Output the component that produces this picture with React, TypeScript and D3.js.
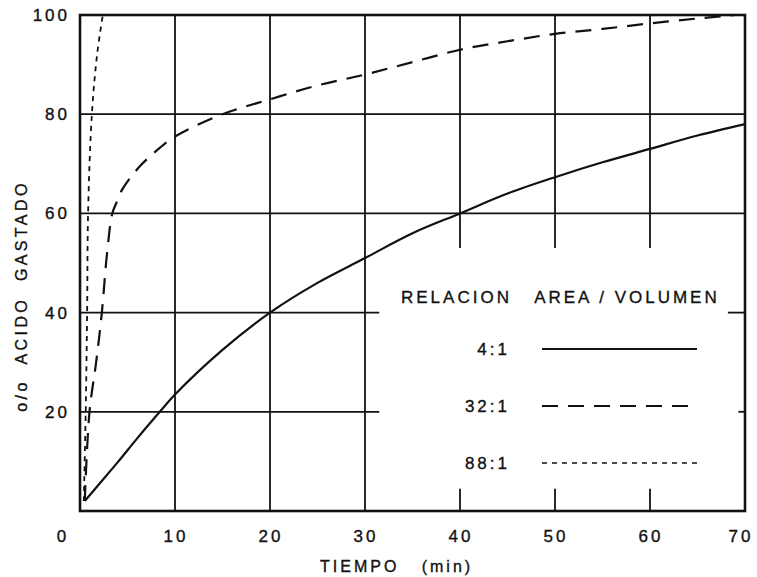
import React, { useEffect, useRef } from 'react';
import * as d3 from 'd3';

// tiempo (min) vs % acido gastado
const ratio4 = [
  [0.5, 2], [2, 5.4], [4, 9.9], [6, 14.6], [8.4, 20], [10, 23.5], [15, 32.5],
  [20, 40], [25, 46], [30, 51], [35, 56], [40, 60], [45, 64], [50, 67.3],
  [55, 70.3], [60, 73], [65, 75.7], [70, 78],
];
const ratio32 = [
  [0.5, 2], [1, 20], [1.7, 30], [2.3, 40], [2.85, 52], [3.4, 60], [3.8, 62],
  [4.5, 65], [6.3, 69.5], [8.4, 73.2], [10, 75.5], [15, 80], [20, 83], [25, 85.8],
  [30, 88], [35, 90.5], [40, 93], [45, 94.7], [50, 96.2], [55, 97.2], [60, 98.3],
  [65, 99.3], [69, 100],
];
const ratio88 = [
  [0.4, 2], [0.6, 20], [0.75, 40], [0.85, 60], [1.25, 80], [1.8, 92], [2.4, 100],
];

const xTicks = [0, 10, 20, 30, 40, 50, 60, 70];
const yTicks = [20, 40, 60, 80, 100];
const legendLabels = ['4:1', '32:1', '88:1'];
const legendDash = ['none', '16,10', '5,5'];

const W = 757;
const H = 577;

const App: React.FC = () => {
  const svgRef = useRef<SVGSVGElement>(null);

  useEffect(() => {
    if (!svgRef.current) return;
    const svg = d3.select(svgRef.current);
    svg.selectAll('*').remove();

    const x = d3.scaleLinear().domain([0, 70]).range([80, 745]);
    const y = d3.scaleLinear().domain([0, 100]).range([511, 15]);
    const font = '"Liberation Sans", Arial, sans-serif';

    const g = svg.append('g');

    // grid - the legend box interrupts some lines
    const seg = (x1: number, y1: number, x2: number, y2: number, w = 1.8) =>
      g.append('line')
        .attr('x1', x(x1)).attr('y1', y(y1))
        .attr('x2', x(x2)).attr('y2', y(y2))
        .attr('stroke', '#111').attr('stroke-width', w);

    [10, 20, 30].forEach(v => seg(v, 0, v, 100));
    [40, 50, 60].forEach(v => { seg(v, 53, v, 100); seg(v, 0, v, 4.5); });
    [60, 80].forEach(v => seg(0, v, 70, v));
    seg(0, 40, 31.5, 40); seg(68.2, 40, 70, 40);
    seg(0, 20, 31.5, 20); seg(69.3, 20, 70, 20);

    g.append('rect')
      .attr('x', x(0)).attr('y', y(100))
      .attr('width', x(70) - x(0)).attr('height', y(0) - y(100))
      .attr('fill', 'none').attr('stroke', '#111').attr('stroke-width', 2.6);

    // curves
    const smooth = d3.line<number[]>()
      .x(d => x(d[0]))
      .y(d => y(d[1]))
      .curve(d3.curveCatmullRom);

    const series = [ratio4, ratio32, ratio88];
    series.forEach((data, i) => {
      g.append('path')
        .datum(data)
        .attr('d', smooth(data))
        .attr('fill', 'none')
        .attr('stroke', '#111')
        .attr('stroke-width', i === 2 ? 1.8 : 2.2)
        .attr('stroke-dasharray', legendDash[i]);
    });

    // scanned text looks a bit heavy
    const label = (sel: d3.Selection<SVGTextElement, any, any, any>, size: number, ls: number) =>
      sel.attr('font-family', font)
        .attr('font-size', size)
        .attr('letter-spacing', ls)
        .attr('fill', '#111')
        .attr('stroke', '#111')
        .attr('stroke-width', 0.35);

    // tick labels
    label(g.selectAll('.xt')
      .data(xTicks)
      .enter()
      .append('text')
      .attr('x', d => d === 0 ? 63 : x(d) + (d === 70 ? -4 : 1))
      .attr('y', 542)
      .attr('text-anchor', 'middle')
      .text(d => d), 17, 3);

    label(g.selectAll('.yt')
      .data(yTicks)
      .enter()
      .append('text')
      .attr('x', 70)
      .attr('y', d => y(d) + 6)
      .attr('text-anchor', 'end')
      .text(d => d), 17, 3);

    // axis titles
    label(g.append('text')
      .attr('x', 320).attr('y', 572)
      .attr('xml:space', 'preserve')
      .text('TIEMPO   (min)'), 16, 3);

    label(g.append('text')
      .attr('transform', 'translate(27, 296) rotate(-90)')
      .attr('text-anchor', 'middle')
      .attr('xml:space', 'preserve')
      .text('o/o  ACIDO  GASTADO'), 16, 3.4);

    // legend
    label(g.append('text')
      .attr('x', 401).attr('y', 303)
      .attr('xml:space', 'preserve')
      .text('RELACION   AREA / VOLUMEN'), 17, 3);

    legendLabels.forEach((lab, i) => {
      const ly = 349 + i * 57;
      label(g.append('text')
        .attr('x', 510).attr('y', ly + 6)
        .attr('text-anchor', 'end')
        .text(lab), 17, 3);
      g.append('line')
        .attr('x1', 542).attr('x2', 697)
        .attr('y1', ly).attr('y2', ly)
        .attr('stroke', '#111')
        .attr('stroke-width', i === 2 ? 1.6 : 2)
        .attr('stroke-dasharray', legendDash[i]);
    });
  }, []);

  return (
    <svg
      ref={svgRef}
      width={W}
      height={H}
      style={{ position: 'absolute', left: 0, top: 0, background: '#fff' }}
    />
  );
};

export default App;
